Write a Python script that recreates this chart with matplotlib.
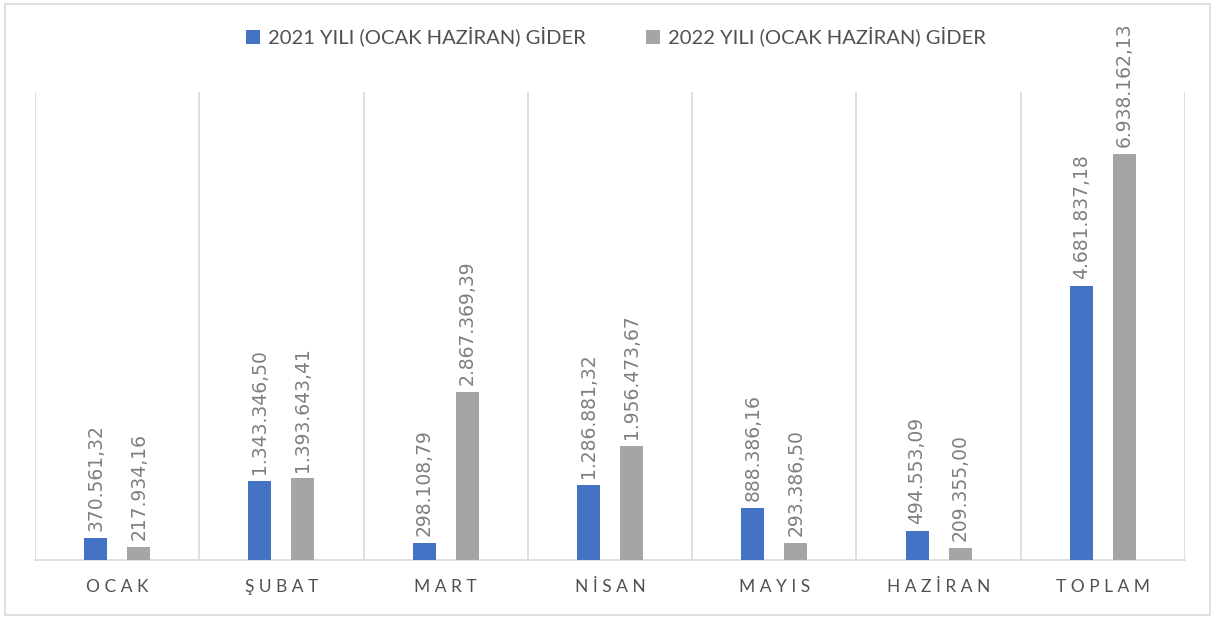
import matplotlib
matplotlib.use("Agg")
import matplotlib.pyplot as plt
from matplotlib.patches import Rectangle
import numpy as np

plt.rcParams['font.family'] = ['Lato', 'DejaVu Sans']

months = ["OCAK", "ŞUBAT", "MART", "NİSAN", "MAYIS", "HAZİRAN", "TOPLAM"]
gider_2021 = [370561.32, 1343346.50, 298108.79, 1286881.32, 888386.16, 494553.09, 4681837.18]
gider_2022 = [217934.16, 1393643.41, 2867369.39, 1956473.67, 293386.50, 209355.00, 6938162.13]
series_names = ["2021 YILI (OCAK HAZİRAN) GİDER", "2022 YILI (OCAK HAZİRAN) GİDER"]

BLUE = "#4472C4"
GRAY = "#A5A5A5"
GRID = "#D9D9D9"
TEXT = "#505050"


def tr_fmt(v):
    # turkish style: dot for thousands, comma for decimals
    s = f"{v:,.2f}"
    return s.replace(",", "X").replace(".", ",").replace("X", ".")


fig = plt.figure(figsize=(12.15, 6.19), dpi=100)
fig.patches.append(Rectangle((0.004, 0.006), 0.992, 0.988, transform=fig.transFigure,
                             fill=False, edgecolor=GRID, lw=1.2))
ax = fig.add_axes([0.0288, 0.0953, 0.9465, 0.7561])

x = np.arange(len(months))
w = 0.14
off = 0.131
b1 = ax.bar(x - off, gider_2021, w, color=BLUE, label=series_names[0], zorder=3)
b2 = ax.bar(x + off, gider_2022, w, color=GRAY, label=series_names[1], zorder=3)

for bars, vals in ((b1, gider_2021), (b2, gider_2022)):
    for r, v in zip(bars, vals):
        ax.annotate(tr_fmt(v), (r.get_x() + r.get_width() / 2, v),
                    xytext=(0, 5), textcoords="offset points",
                    rotation=90, ha="center", va="bottom",
                    fontsize=13.5, color="#7F7F7F", family=['DejaVu Sans'])

for b in np.arange(-0.5, len(months), 1.0):
    ax.axvline(b, color=GRID, lw=1.2, zorder=1)

ax.set_xlim(-0.5, len(months) - 0.5)
ax.set_ylim(0, 8000000)
ax.set_yticks([])
ax.set_xticks(x)
ax.set_xticklabels([" ".join(m) for m in months], fontsize=12.5, color=TEXT)
ax.tick_params(axis="x", length=0, pad=14)
for s in ("top", "right", "left"):
    ax.spines[s].set_visible(False)
ax.spines["bottom"].set_color(GRID)
ax.spines["bottom"].set_linewidth(1.2)

fig.legend(loc="upper center", bbox_to_anchor=(0.507, 0.985), ncol=2, frameon=False,
           fontsize=14.5, labelcolor=TEXT, handlelength=0.7, handleheight=0.7,
           handletextpad=0.4, columnspacing=3.0)

fig.savefig("out.png", dpi=100)
